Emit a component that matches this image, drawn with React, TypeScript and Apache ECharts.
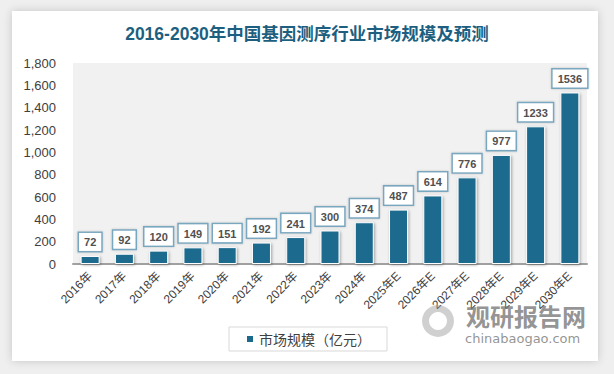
import React, { useEffect, useRef } from "react";
import * as echarts from "echarts";

const categories = ["2016年", "2017年", "2018年", "2019年", "2020年", "2021年", "2022年", "2023年", "2024年", "2025年E", "2026年E", "2027年E", "2028年E", "2029年E", "2030年E"];
const values = [72, 92, 120, 149, 151, 192, 241, 300, 374, 487, 614, 776, 977, 1233, 1536];
const seriesName = "市场规模（亿元）";
const titleText = "2016-2030年中国基因测序行业市场规模及预测";

export default function App() {
  const ref = useRef<HTMLDivElement>(null);
  useEffect(() => {
    const chart = echarts.init(ref.current!, null, { renderer: "svg" });
    chart.setOption({
      animation: false,
      backgroundColor: "#efefef",
      title: {
        text: titleText,
        left: "center",
        top: 20,
        textStyle: { color: "#1d5f80", fontSize: 17.5, fontWeight: "bold", fontFamily: "Liberation Sans, Noto Sans CJK SC, sans-serif" },
      },
      graphic: [
        {
          type: "rect",
          z: -10,
          shape: { x: 12, y: 11, width: 586, height: 350 },
          style: { fill: "#ffffff", shadowBlur: 8, shadowColor: "rgba(0,0,0,0.18)" },
        },
        {
          type: "text",
          left: 466,
          top: 303,
          z: 100,
          style: { text: "观研报告网", fill: "rgba(120,120,120,0.8)", font: "bold 24px Noto Sans CJK SC" },
        },
        {
          type: "text",
          left: 465,
          top: 332,
          z: 100,
          style: { text: "chinabaogao.com", fill: "rgba(120,120,120,0.8)", font: "13px DejaVu Sans" },
        },
        {
          type: "ring",
          z: 100,
          shape: { cx: 438, cy: 321, r: 16, r0: 9 },
          style: { fill: "rgba(150,150,150,0.45)" },
        },
      ],
      grid: {
        left: 73,
        right: 27,
        top: 63,
        bottom: 110,
        show: true,
        backgroundColor: "#f1f1f1",
        borderWidth: 0,
      },
      legend: {
        data: [{ name: seriesName, icon: "rect" }],
        left: 229,
        top: 327,
        itemWidth: 8,
        itemHeight: 8,
        itemGap: 6,
        padding: [5, 16, 5, 16],
        borderColor: "#d9d9d9",
        borderWidth: 1,
        textStyle: { color: "#404040", fontSize: 14, fontFamily: "Noto Sans CJK SC" },
      },
      xAxis: {
        type: "category",
        data: categories,
        axisLine: { lineStyle: { color: "#a0a0a0", width: 2 } },
        axisTick: { show: false },
        axisLabel: { rotate: 45, color: "#404040", fontSize: 12, interval: 0, margin: 10, fontFamily: "Liberation Sans, Noto Sans CJK SC" },
      },
      yAxis: {
        type: "value",
        min: 0,
        max: 1800,
        interval: 200,
        splitLine: { show: false },
        axisLine: { show: false },
        axisTick: { show: false },
        axisLabel: {
          color: "#404040",
          fontSize: 13,
          margin: 17,
          fontFamily: "Liberation Sans, sans-serif",
          formatter: (v: number) => v.toLocaleString("en-US"),
        },
      },
      series: [
        {
          name: seriesName,
          type: "bar",
          data: values,
          barWidth: 19,
          itemStyle: {
            color: "#1b6a8d",
            borderColor: "#ffffff",
            borderWidth: 1,
            shadowBlur: 3,
            shadowColor: "rgba(0,0,0,0.35)",
            shadowOffsetX: 1,
            shadowOffsetY: 1,
          },
          label: {
            show: true,
            position: "top",
            distance: 5,
            color: "#505050",
            fontSize: 11,
            fontWeight: "bold",
            fontFamily: "Liberation Sans, sans-serif",
            backgroundColor: "#ffffff",
            borderColor: "#7aa7c0",
            borderWidth: 1.5,
            padding: [4, 5, 3, 5],
            shadowBlur: 2,
            shadowColor: "rgba(0,0,0,0.2)",
          },
        },
      ],
    });
    return () => chart.dispose();
  }, []);
  return (
    <div
      ref={ref}
      style={{ position: "fixed", left: 0, top: 0, width: 614, height: 374 }}
    />
  );
}
